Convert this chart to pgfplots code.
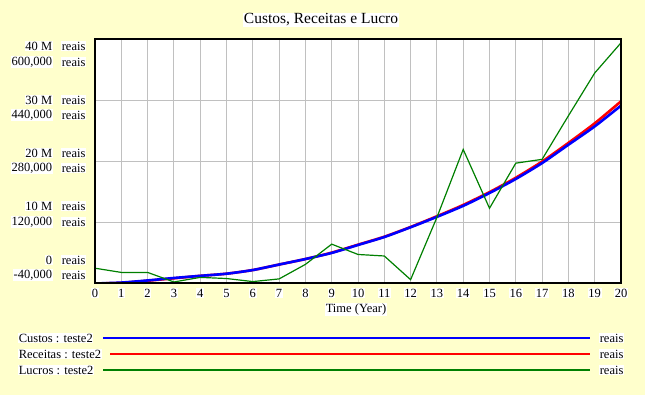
\documentclass[border=0pt]{standalone}
\usepackage{pgfplots}
\pgfplotsset{compat=1.18}
\usepackage{fontspec}
\setmainfont{Liberation Serif}
\definecolor{bgy}{HTML}{FFFFCC}
\definecolor{gridg}{HTML}{C0C0C0}
\definecolor{lgreen}{HTML}{008000}
\definecolor{lblue}{HTML}{0000FF}
\definecolor{lred}{HTML}{FF0000}

\pgfplotstableread{
t custos receitas
0 0.0 0.0
1 0.15 0.1
2 0.5 0.45
3 0.9 0.85
4 1.25 1.25
5 1.6 1.6
6 2.2 2.2
7 3.1 3.1
8 4.0 4.0
9 5.0 5.05
10 6.3 6.35
11 7.6 7.65
12 9.2 9.25
13 10.9 11.0
14 12.7 12.85
15 14.8 14.95
16 17.1 17.3
17 19.7 19.95
18 22.7 23.0
19 25.7 26.2
20 29.1 29.8
}\custosreceitas

\pgfplotstableread{
t lucros
0 0
1 -11000
2 -11000
3 -36000
4 -24000
5 -27000
6 -35000
7 -28000
8 10000
9 63000
10 36000
11 32000
12 -30000
13 133000
14 311000
15 157000
16 275000
17 285000
18 399000
19 511000
20 590000
}\lucros

\begin{document}
\begin{tikzpicture}[x=1pt,y=1pt]
\path[use as bounding box, fill=bgy] (0,0) rectangle (645,395);
\begin{axis}[at={(95pt,111.5pt)}, anchor=south west, scale only axis,
  width=526pt, height=244.5pt,
  xmin=0, xmax=20, ymin=0, ymax=40,
  xtick={0,...,20}, ytick={0,10,...,40},
  xticklabels={}, yticklabels={},
  major tick length=0pt,
  grid=major, grid style={gridg, line width=1pt},
  axis background/.style={fill=white},
  axis line style={draw=none}]
\addplot[lred, line width=2.6pt, smooth, tension=0.4] table[x=t, y=receitas] {\custosreceitas};
\addplot[lblue, line width=2.6pt, smooth, tension=0.4] table[x=t, y=custos] {\custosreceitas};
\end{axis}
\begin{axis}[at={(95pt,111.5pt)}, anchor=south west, scale only axis,
  width=526pt, height=244.5pt,
  xmin=0, xmax=20, ymin=-40000, ymax=600000,
  xtick=\empty, ytick=\empty,
  axis on top,
  axis line style={black, line width=2pt}]
\addplot[lgreen, line width=1.2pt] table[x=t, y=lucros] {\lucros};
\end{axis}

% title
\node[fill=white, inner sep=1pt, font=\fontsize{15.5}{18}\selectfont] at (321,375) {Custos, Receitas e Lucro};

% y tick labels
\begingroup
\tikzset{lab/.style={fill=white, inner sep=0.6pt, font=\fontsize{12.5}{14}\selectfont}}
\foreach \ya/\yb/\la/\lb in {46/62/40 M/{600,000}, 100/115/30 M/{440,000}, 153/168/20 M/{280,000}, 206/222/10 M/{120,000}, 260/275/0/{-40,000}}{
  \node[lab, anchor=east] at (53,395-\ya) {\la};
  \node[lab, anchor=west] at (61,395-\ya) {reais};
  \node[lab, anchor=east] at (53,395-\yb) {\lb};
  \node[lab, anchor=west] at (61,395-\yb) {reais};
}
% x tick labels
\foreach \i in {0,...,20}{
  \node[lab] at (95+\i*26.3,395-293) {\i};
}
\node[lab] at (356,395-309.5) {Time (Year)};

% legend
\node[lab, anchor=west] at (18,395-338) {Custos : teste2};
\node[lab, anchor=west] at (18,395-354) {Receitas : teste2};
\node[lab, anchor=west] at (18,395-370) {Lucros : teste2};
\draw[lblue, line width=2.6pt] (103,395-338) -- (590,395-338);
\draw[lred, line width=2.6pt] (110,395-354) -- (590,395-354);
\draw[lgreen, line width=1.4pt] (103,395-370) -- (590,395-370);
\node[lab, anchor=west] at (599,395-338) {reais};
\node[lab, anchor=west] at (599,395-354) {reais};
\node[lab, anchor=west] at (599,395-370) {reais};
\endgroup
\end{tikzpicture}
\end{document}
